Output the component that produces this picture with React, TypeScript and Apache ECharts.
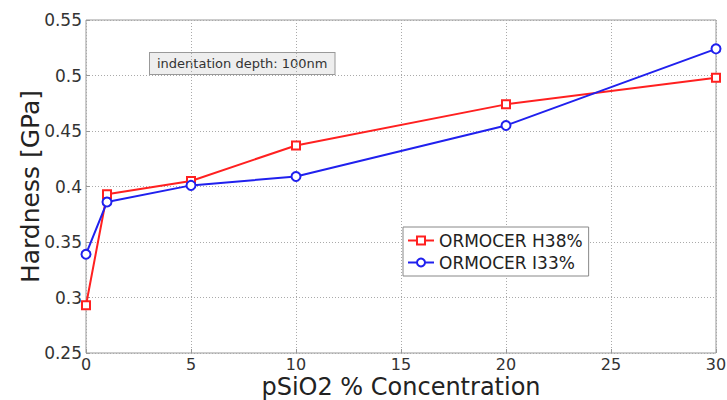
import React, { useEffect, useRef } from "react";
import * as echarts from "echarts";

const concentrations = [0, 1, 5, 10, 20, 30];
const hardnessH38 = [0.293, 0.393, 0.405, 0.437, 0.474, 0.498];
const hardnessI33 = [0.339, 0.386, 0.401, 0.409, 0.455, 0.524];
const seriesNames = ["ORMOCER H38%", "ORMOCER I33%"];
const annotation = "indentation depth: 100nm";

export default function App() {
  const ref = useRef<HTMLDivElement>(null);
  useEffect(() => {
    if (!ref.current) return;
    const chart = echarts.init(ref.current, null, { renderer: "svg" });
    const font = "DejaVu Sans";
    chart.setOption({
      animation: false,
      backgroundColor: "#ffffff",
      textStyle: { fontFamily: font },
      grid: {
        left: 86,
        right: 11,
        top: 20,
        bottom: 47,
        outerBoundsMode: "none",
        containLabel: false,
        show: true,
        borderColor: "#999999",
        borderWidth: 1,
      },
      xAxis: {
        type: "value",
        min: 0,
        max: 30,
        interval: 5,
        name: "pSiO2 % Concentration",
        nameLocation: "middle",
        nameGap: 34,
        nameMoveOverlap: false,
        nameTextStyle: { fontSize: 24, color: "#222", fontFamily: font, verticalAlign: "middle" },
        axisLine: { show: false },
        axisTick: { show: true, inside: true, length: 4, lineStyle: { color: "#999" } },
        axisLabel: { fontSize: 16, color: "#333", margin: 3, fontFamily: font },
        splitLine: { show: true, lineStyle: { color: "#aaaaaa", type: [1, 2], width: 1 } },
      },
      yAxis: {
        type: "value",
        min: 0.25,
        max: 0.55,
        interval: 0.05,
        name: "Hardness [GPa]",
        nameLocation: "middle",
        nameGap: 56,
        nameMoveOverlap: false,
        nameTextStyle: { fontSize: 25, color: "#222", fontFamily: font, verticalAlign: "middle" },
        axisLine: { show: false },
        axisTick: { show: true, inside: true, length: 4, lineStyle: { color: "#999" } },
        axisLabel: { fontSize: 17, color: "#333", margin: 4, fontFamily: font },
        splitLine: { show: true, lineStyle: { color: "#aaaaaa", type: [1, 2], width: 1 } },
      },
      legend: {
        orient: "vertical",
        left: 403,
        top: 227,
        backgroundColor: "#ffffff",
        borderColor: "#888888",
        borderWidth: 1,
        borderRadius: 0,
        padding: [5, 6, 5, 4],
        itemGap: 5,
        itemWidth: 26,
        itemHeight: 10,
        textStyle: { fontSize: 17, color: "#222", fontFamily: font },
        data: seriesNames,
      },
      graphic: [
        {
          type: "text",
          left: 149,
          top: 52,
          style: {
            text: annotation,
            fontSize: 13,
            fontFamily: font,
            fill: "#333",
            backgroundColor: "#eeeeee",
            borderColor: "#999999",
            borderWidth: 1,
            padding: [4, 7, 4, 7],
          },
        },
      ],
      series: [
        {
          name: seriesNames[0],
          type: "line",
          data: concentrations.map((c, i) => [c, hardnessH38[i]]),
          symbol: "emptyRect",
          symbolSize: 8,
          lineStyle: { color: "#ff2020", width: 2 },
          itemStyle: { color: "#ff2020", borderWidth: 1.5 },
        },
        {
          name: seriesNames[1],
          type: "line",
          data: concentrations.map((c, i) => [c, hardnessI33[i]]),
          symbol: "emptyCircle",
          symbolSize: 9,
          lineStyle: { color: "#2020ee", width: 2 },
          itemStyle: { color: "#2020ee", borderWidth: 1.5 },
        },
      ],
    });
    return () => chart.dispose();
  }, []);
  return (
    <div
      ref={ref}
      style={{ position: "fixed", left: 0, top: 0, width: 727, height: 400 }}
    />
  );
}
